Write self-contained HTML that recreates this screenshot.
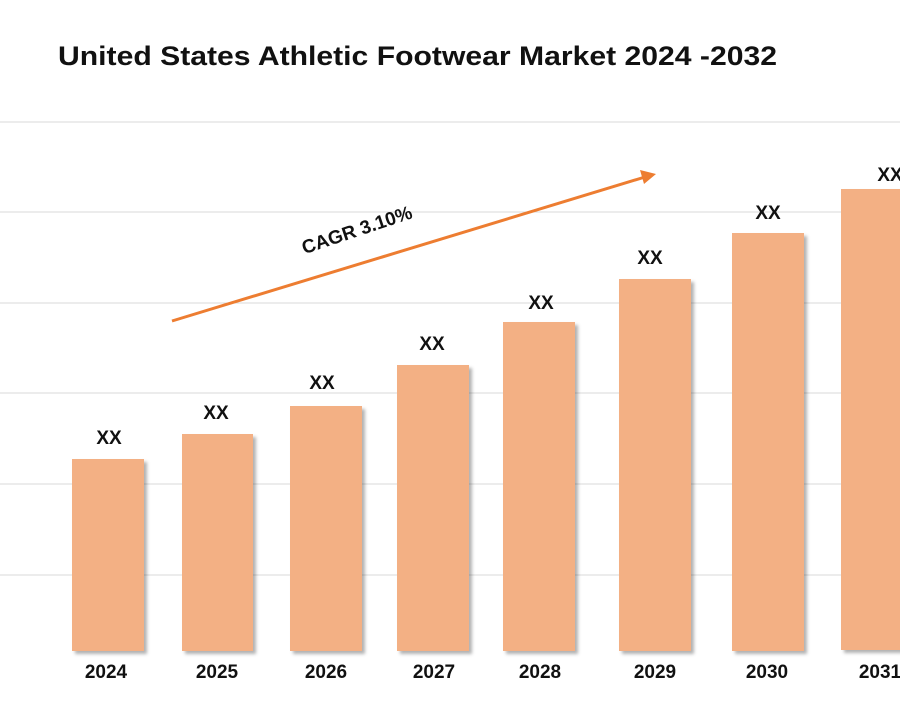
<!DOCTYPE html>
<html><head><meta charset="utf-8"><style>
html,body{margin:0;padding:0;background:#fff;}
</style></head><body>
<svg width="900" height="700" xmlns="http://www.w3.org/2000/svg" font-family="Liberation Sans, sans-serif">
<defs><filter id="s" x="-10%" y="-10%" width="130%" height="130%"><feDropShadow dx="3" dy="3" stdDeviation="1.5" flood-color="#000" flood-opacity="0.3"/></filter></defs>
<text x="58" y="65" font-size="27" font-weight="bold" fill="#111" textLength="719" lengthAdjust="spacingAndGlyphs">United States Athletic Footwear Market 2024 -2032</text>
<g stroke="#d9d9d9" stroke-width="1">
<line x1="0" y1="122" x2="900" y2="122"/><line x1="0" y1="212" x2="900" y2="212"/><line x1="0" y1="303" x2="900" y2="303"/><line x1="0" y1="393" x2="900" y2="393"/><line x1="0" y1="484" x2="900" y2="484"/><line x1="0" y1="575" x2="900" y2="575"/>
</g>
<g fill="#f3b084" filter="url(#s)">
<rect x="72" y="459" width="72" height="192"/>
<rect x="182" y="434" width="71" height="217"/>
<rect x="290" y="406" width="72" height="245"/>
<rect x="397" y="365" width="72" height="286"/>
<rect x="503" y="322" width="72" height="329"/>
<rect x="619" y="279" width="72" height="372"/>
<rect x="732" y="233" width="72" height="418"/>
<rect x="841" y="189" width="72" height="461"/>
</g>
<g font-size="19" font-weight="bold" fill="#111" text-anchor="middle">
<text x="109" y="444">XX</text><text x="216" y="419">XX</text><text x="322" y="389">XX</text><text x="432" y="350">XX</text><text x="541" y="309">XX</text><text x="650" y="264">XX</text><text x="768" y="219">XX</text><text x="890" y="181">XX</text>
<text x="106" y="678">2024</text><text x="217" y="678">2025</text><text x="326" y="678">2026</text><text x="434" y="678">2027</text><text x="540" y="678">2028</text><text x="655" y="678">2029</text><text x="767" y="678">2030</text><text x="880" y="678">2031</text>
</g>
<line x1="172" y1="321" x2="645" y2="177" stroke="#ed7d31" stroke-width="3"/>
<polygon points="656,174 640,170 644,184" fill="#ed7d31"/>
<text x="359" y="236" font-size="19" font-weight="bold" fill="#111" text-anchor="middle" transform="rotate(-18.5 359 236)">CAGR 3.10%</text>
</svg>
</body></html>
